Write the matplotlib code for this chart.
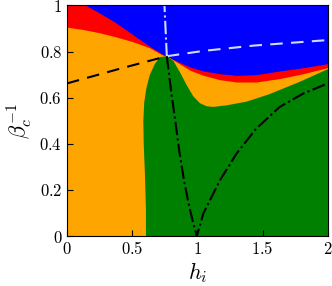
import matplotlib
matplotlib.use("Agg")
import matplotlib.pyplot as plt

plt.rcParams["mathtext.fontset"] = "cm"
plt.rcParams["font.family"] = "serif"

# phase boundaries
h_blue = [0.0, 0.146, 0.248, 0.375, 0.503, 0.631, 0.733, 0.765, 0.84, 0.943, 1.045, 1.172, 1.30, 1.45, 1.63, 1.81, 2.0]
b_blue = [1.05, 1.0, 0.968, 0.925, 0.874, 0.824, 0.788, 0.78, 0.759, 0.733, 0.716, 0.704, 0.697, 0.700, 0.716, 0.730, 0.748]

h_red = [0.0, 0.12, 0.248, 0.375, 0.503, 0.631, 0.733, 0.765, 0.84, 0.943, 1.045, 1.172, 1.30, 1.45, 1.63, 1.81, 2.0]
b_red = [0.906, 0.896, 0.882, 0.864, 0.843, 0.817, 0.785, 0.78, 0.755, 0.719, 0.697, 0.678, 0.668, 0.668, 0.683, 0.704, 0.731]

# green region: left edge (bottom -> cusp), right edge (cusp -> h=2)
h_gl = [0.605, 0.605, 0.598, 0.588, 0.585, 0.592, 0.608, 0.635, 0.674, 0.713, 0.765]
b_gl = [0.0, 0.113, 0.257, 0.40, 0.50, 0.58, 0.64, 0.70, 0.747, 0.776, 0.78]
h_gr = [0.765, 0.815, 0.866, 0.917, 0.968, 1.019, 1.070, 1.121, 1.224, 1.377, 1.55, 1.78, 2.0]
b_gr = [0.78, 0.76, 0.71, 0.655, 0.606, 0.576, 0.563, 0.560, 0.567, 0.583, 0.615, 0.668, 0.724]

# lines
h_dash_l = [0.0, 0.4, 0.765]
b_dash_l = [0.662, 0.725, 0.78]
h_dash_r = [0.765, 1.045, 1.43, 1.81, 2.0]
b_dash_r = [0.78, 0.803, 0.826, 0.842, 0.85]
h_dd_up = [0.765, 0.747]
b_dd_up = [0.78, 1.0]
h_dd = [0.765, 0.80, 0.83, 0.86, 0.90, 0.94, 0.97, 0.995, 1.045, 1.172, 1.30, 1.45, 1.63, 1.81, 2.0]
b_dd = [0.78, 0.62, 0.50, 0.37, 0.23, 0.12, 0.05, 0.0, 0.098, 0.242, 0.358, 0.466, 0.560, 0.618, 0.662]

fig = plt.figure(figsize=(3.32, 2.86), dpi=100)
ax = fig.add_axes([0.2018, 0.1748, 0.786, 0.806])

ax.fill_between([0, 2], 0, 1, color="blue", lw=0)
ax.fill_between(h_blue, 0, b_blue, color="red", lw=0)
ax.fill_between(h_red, 0, b_red, color="orange", lw=0)
gx = h_gl + h_gr[1:] + [2.0]
gy = b_gl + b_gr[1:] + [0.0]
ax.fill(gx, gy, color="green", lw=0)

ax.plot(h_dash_l, b_dash_l, "k--", lw=1.5, dashes=(6, 4))
ax.plot(h_dash_r, b_dash_r, "--", color="#cfdcff", lw=1.5, dashes=(6, 4))
ax.plot(h_dd_up, b_dd_up, "-.", color="#cfdcff", lw=1.5)
ax.plot(h_dd, b_dd, "k-.", lw=1.5)

ax.set_xlim(0, 2)
ax.set_ylim(0, 1)
ax.set_xticks([0, 0.5, 1, 1.5, 2])
ax.set_xticklabels([r"$0$", r"$0.5$", r"$1$", r"$1.5$", r"$2$"])
ax.set_yticks([0, 0.2, 0.4, 0.6, 0.8, 1])
ax.set_yticklabels([r"$0$", r"$0.2$", r"$0.4$", r"$0.6$", r"$0.8$", r"$1$"])
ax.tick_params(direction="in", labelsize=12, length=4)
ax.set_xlabel(r"$h_i$", fontsize=16, labelpad=2)
ax.set_ylabel(r"$\beta_c^{-1}$", fontsize=16, labelpad=4)

plt.savefig("out.png", dpi=100)
